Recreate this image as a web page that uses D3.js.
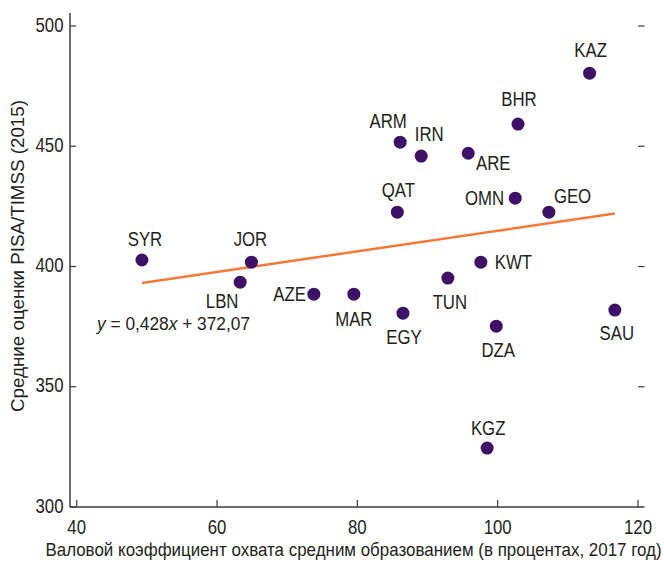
<!DOCTYPE html>
<html>
<head>
<meta charset="utf-8">
<script src="https://cdn.jsdelivr.net/npm/d3@7"></script>
<style>
  html, body { margin: 0; padding: 0; background: #fff; }
  svg text { font-family: "Liberation Sans", Arial, sans-serif; fill: #231f20; }
</style>
</head>
<body>
<svg id="chart" width="664" height="562"></svg>
<script>
// Countries, enrolment ratio (x) and mean PISA/TIMSS score (y)
const countries = ["SYR","JOR","LBN","AZE","MAR","EGY","TUN","KWT","DZA","SAU","KGZ","QAT","OMN","GEO","ARM","IRN","ARE","BHR","KAZ"];
const enrolment = [49.3, 64.9, 63.3, 73.8, 79.5, 86.5, 92.9, 97.6, 99.8, 116.7, 98.5, 85.7, 102.5, 107.3, 86.1, 89.1, 95.8, 102.9, 113.1];
const scores    = [402.7, 401.8, 393.5, 388.5, 388.5, 380.6, 395.2, 401.8, 375.2, 381.9, 324.5, 422.6, 428.4, 422.6, 451.7, 445.9, 447.1, 459.2, 480.4];
// label placement: [dx, dy, anchor] relative to the dot
const labelPos = [
  [3, -14, "middle"], [-1, -16, "middle"], [-18, 26, "middle"], [-8, 7, "end"],
  [0, 32, "middle"], [1, 31, "middle"], [2, 31, "middle"], [14, 7, "start"],
  [2, 31, "middle"], [2, 30, "middle"], [1, -13, "middle"], [1, -15, "middle"],
  [-11, 7, "end"], [5, -9, "start"], [-12, -14, "middle"], [8, -15, "middle"],
  [25, 17, "middle"], [1, -18, "middle"], [1, -16, "middle"]
];

const xTicks = [40, 60, 80, 100, 120];
const yTicks = [300, 350, 400, 450, 500];

// Fitted trend line: y = 0.428x + 372.07
const slope = 0.428, intercept = 372.07;

const svg = d3.select("#chart");
const x = d3.scaleLinear().domain([40, 120]).range([76.7, 638]);
const y = d3.scaleLinear().domain([300, 500]).range([507, 26]);

const axisColor = "#3a3a3a";
const plotLeft = 70, plotRight = 644.5, plotTop = 13, plotBottom = 507;
const FS = 19.5;

// narrow the regular face horizontally to get a condensed look
const SQUEEZE = 0.86;
function condense(sel, width) {
  sel.each(function () {
    const w = width != null ? width : this.getComputedTextLength() * SQUEEZE;
    d3.select(this).attr("textLength", w).attr("lengthAdjust", "spacingAndGlyphs");
  });
}
// squeeze a whole text through a group scale so that it spans `width` px
function scaledText(cx, cy, width, size, anchor) {
  const g = svg.append("g");
  const t = g.append("text").attr("x", 0).attr("y", 0)
    .attr("font-size", size).attr("text-anchor", anchor);
  return { g, t, fit() {
    const s = width / t.node().getBBox().width;
    g.attr("transform", `translate(${cx},${cy}) scale(${s},1)`);
  } };
}

// axis lines
svg.append("line").attr("x1", plotLeft).attr("x2", plotLeft).attr("y1", plotTop).attr("y2", plotBottom)
  .attr("stroke", axisColor).attr("stroke-width", 1.5);
svg.append("line").attr("x1", plotLeft).attr("x2", plotRight).attr("y1", plotBottom).attr("y2", plotBottom)
  .attr("stroke", axisColor).attr("stroke-width", 1.5);

// y ticks (left, pointing inward) and mirrored ticks on the right
svg.selectAll(".ytick").data(yTicks).join("line")
  .attr("x1", plotLeft).attr("x2", plotLeft + 6)
  .attr("y1", d => y(d)).attr("y2", d => y(d))
  .attr("stroke", axisColor).attr("stroke-width", 1.2);
svg.selectAll(".ytickr").data(yTicks.filter(d => d > 300)).join("line")
  .attr("x1", plotRight - 6.5).attr("x2", plotRight)
  .attr("y1", d => y(d)).attr("y2", d => y(d))
  .attr("stroke", axisColor).attr("stroke-width", 1.2);
svg.selectAll(".ylab").data(yTicks).join("text")
  .attr("x", 63.5).attr("y", d => y(d) + 5.5)
  .attr("text-anchor", "end").attr("font-size", FS)
  .text(d => d)
  .call(condense);

// x ticks (pointing up)
svg.selectAll(".xtick").data(xTicks).join("line")
  .attr("x1", d => x(d)).attr("x2", d => x(d))
  .attr("y1", plotBottom).attr("y2", plotBottom - 7)
  .attr("stroke", axisColor).attr("stroke-width", 1.2);
svg.selectAll(".xlab").data(xTicks).join("text")
  .attr("x", d => x(d)).attr("y", 534)
  .attr("text-anchor", "middle").attr("font-size", FS)
  .text(d => d)
  .call(condense);

// axis titles
const xTitle = scaledText(353.5, 556, 616, 18.2, "middle");
xTitle.t.text("Валовой коэффициент охвата средним образованием (в процентах, 2017 год)");
xTitle.fit();
svg.append("text").attr("transform", "translate(24,256) rotate(-90)")
  .attr("text-anchor", "middle").attr("font-size", 18.5)
  .text("Средние оценки PISA/TIMSS (2015)")
  .call(condense, 312);

// trend line over the data range
const xr = d3.extent(enrolment);
svg.append("line")
  .attr("x1", x(xr[0])).attr("y1", y(slope * xr[0] + intercept))
  .attr("x2", x(xr[1])).attr("y2", y(slope * xr[1] + intercept))
  .attr("stroke", "#f4793b").attr("stroke-width", 2.5);

// equation
const eqText = scaledText(97, 330, 155, 18.5, "start");
eqText.t.append("tspan").attr("font-style", "italic").text("y");
eqText.t.append("tspan").text(" = 0,428");
eqText.t.append("tspan").attr("font-style", "italic").text("x");
eqText.t.append("tspan").text(" + " + intercept.toFixed(2).replace(".", ","));
eqText.fit();

// points
const pts = countries.map((c, i) => ({ c, x: enrolment[i], y: scores[i], p: labelPos[i] }));
svg.selectAll(".dot").data(pts).join("circle")
  .attr("cx", d => x(d.x)).attr("cy", d => y(d.y)).attr("r", 6.5)
  .attr("fill", "#3d1266");
svg.selectAll(".plab").data(pts).join("text")
  .attr("x", d => x(d.x) + d.p[0]).attr("y", d => y(d.y) + d.p[1])
  .attr("text-anchor", d => d.p[2]).attr("font-size", FS)
  .text(d => d.c)
  .call(condense);
</script>
</body>
</html>
